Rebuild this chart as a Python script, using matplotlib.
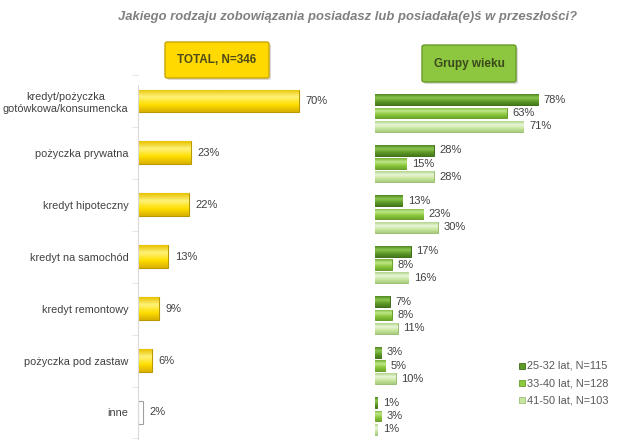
import matplotlib
matplotlib.use("Agg")
import matplotlib.pyplot as plt
import numpy as np
from matplotlib.patches import FancyBboxPatch, Rectangle
from matplotlib.colors import LinearSegmentedColormap

plt.rcParams['font.family'] = ['Liberation Sans', 'DejaVu Sans']

title = "Jakiego rodzaju zobowiązania posiadasz lub posiadała(e)ś w przeszłości?"
categories = ["kredyt/pożyczka\ngotówkowa/konsumencka", "pożyczka prywatna",
              "kredyt hipoteczny", "kredyt na samochód", "kredyt remontowy",
              "pożyczka pod zastaw", "inne"]
total_values = [70, 23, 22, 13, 9, 6, 2]
total_label = "TOTAL, N=346"
groups_label = "Grupy wieku"
age_series = ["25-32 lat, N=115", "33-40 lat, N=128", "41-50 lat, N=103"]
age_25_32 = [78, 28, 13, 17, 7, 3, 1]
age_33_40 = [63, 15, 23, 8, 8, 5, 3]
age_41_50 = [71, 28, 30, 16, 11, 10, 1]

W, H = 640, 440
fig = plt.figure(figsize=(W / 100, H / 100), dpi=100)
fig.patch.set_facecolor('white')

def box(l, t, r, b):
    return [l / W, 1 - b / H, (r - l) / W, (b - t) / H]

txt_col = '#404040'
grad = np.linspace(0, 1, 64).reshape(-1, 1)

def shade(ax, bars, stops):
    cmap = LinearSegmentedColormap.from_list('g', stops)
    for p in bars:
        x0, y0 = p.get_x(), p.get_y()
        w, h = p.get_width(), p.get_height()
        im = ax.imshow(grad, cmap=cmap, aspect='auto', interpolation='bicubic',
                       extent=(x0, x0 + w, y0 + h, y0), zorder=p.get_zorder() + 0.1)
        im.set_clip_path(p)

# Title
fig.text(348 / W, 1 - 17 / H, title, ha='center', va='center', fontsize=9.4,
         fontweight='bold', fontstyle='italic', color='#808080')

# Left panel (TOTAL)
ax1 = fig.add_axes(box(138, 74, 360, 440))
n = len(categories)
ypos = list(range(n))
bars = ax1.barh(ypos, total_values, height=0.44, color='#FFE01A',
                edgecolor='#B89A00', linewidth=0.8)
shade(ax1, bars[:-1], ['#E8C200', '#FFF27A', '#FFE000', '#D9B000'])
bars[-1].set_facecolor('white')
bars[-1].set_edgecolor('#A0A0A0')
for y, v in zip(ypos, total_values):
    ax1.annotate(f"{v}%", (v, y), xytext=(5, 0), textcoords='offset points',
                 ha='left', va='center', fontsize=8, color=txt_col)
ax1.set_xlim(0, 222 / 2.296)
ax1.set_ylim(6.53, -0.52)
ax1.set_yticks(ypos)
ax1.set_yticklabels(categories, fontsize=7.8, color=txt_col, multialignment='center')
ax1.tick_params(axis='y', length=0, pad=7)
ax1.set_yticks([i + 0.5 for i in range(-1, n)], minor=True)
ax1.tick_params(axis='y', which='minor', length=4, color='#E0E0E0', direction='out')
ax1.set_xticks([])
for s in ['top', 'right', 'bottom']:
    ax1.spines[s].set_visible(False)
ax1.spines['left'].set_color('#D9D9D9')
ax1.spines['left'].set_bounds(-0.3, 6.53)
ax1.patch.set_alpha(0)

# Right panel (age groups)
ax2 = fig.add_axes(box(375, 88, 640, 440))
gcols = ['#5E9A28', '#8CC83C', '#C8E69E']
gedges = ['#3F6E18', '#6A9E2A', '#9CBF74']
gstops = [['#4E8420', '#8CC850', '#5E9A28', '#467A1C'],
          ['#74B030', '#C0E88A', '#8CC83C', '#6EA82C'],
          ['#B0D488', '#EAF6DA', '#C8E69E', '#A8CC80']]
offsets = [-0.263, 0.0, 0.263]
for vals, off, c, e, st in zip([age_25_32, age_33_40, age_41_50], offsets,
                               gcols, gedges, gstops):
    yy = [y + off for y in ypos]
    b = ax2.barh(yy, vals, height=0.21, color=c, edgecolor=e, linewidth=0.7)
    shade(ax2, b, st)
    for y, v in zip(yy, vals):
        ax2.annotate(f"{v}%", (v, y), xytext=(4, 0), textcoords='offset points',
                     ha='left', va='center', fontsize=8, color=txt_col)
ax2.set_xlim(0, 265 / 2.09)
ax2.set_ylim((440 - 113) / 50.5, (88 - 113) / 50.5)
ax2.axis('off')
ax1.set_xlim(0, 222 / 2.296)
ax1.set_ylim(6.53, -0.52)

# Header boxes
def header(l, t, r, b, face, edge, text, tcol):
    sh = FancyBboxPatch(((l + 2) / W, 1 - (b + 2) / H), (r - l) / W, (b - t) / H,
                        boxstyle="round,pad=0,rounding_size=0.004",
                        transform=fig.transFigure, facecolor='#BFBFBF', edgecolor='none',
                        alpha=0.6)
    p = FancyBboxPatch((l / W, 1 - b / H), (r - l) / W, (b - t) / H,
                       boxstyle="round,pad=0,rounding_size=0.004",
                       transform=fig.transFigure, facecolor=face, edgecolor=edge,
                       linewidth=1.0)
    fig.patches.append(sh)
    fig.patches.append(p)
    fig.text((l + r) / 2 / W, 1 - (t + b) / 2 / H, text, ha='center', va='center',
             fontsize=8.5, fontweight='bold', color=tcol,
             family=['Liberation Sans Narrow', 'Liberation Sans'])

header(165, 42, 269, 78, '#FFD900', '#C9A400', total_label, '#4D4A1A')
header(422, 45, 516, 82, '#8DC63F', '#6A9A2A', groups_label, '#3A4A1A')

# Legend
ly = [366, 383, 400]
for name, c, e, y in zip(age_series, gcols, gedges, ly):
    fig.patches.append(Rectangle((519 / W, 1 - (y + 3) / H), 6 / W, 6 / H,
                                 transform=fig.transFigure, facecolor=c,
                                 edgecolor=e, linewidth=0.6))
    fig.text(527 / W, 1 - y / H, name, ha='left', va='center', fontsize=7.9,
             color='#595959')

fig.savefig("out.png", dpi=100)
